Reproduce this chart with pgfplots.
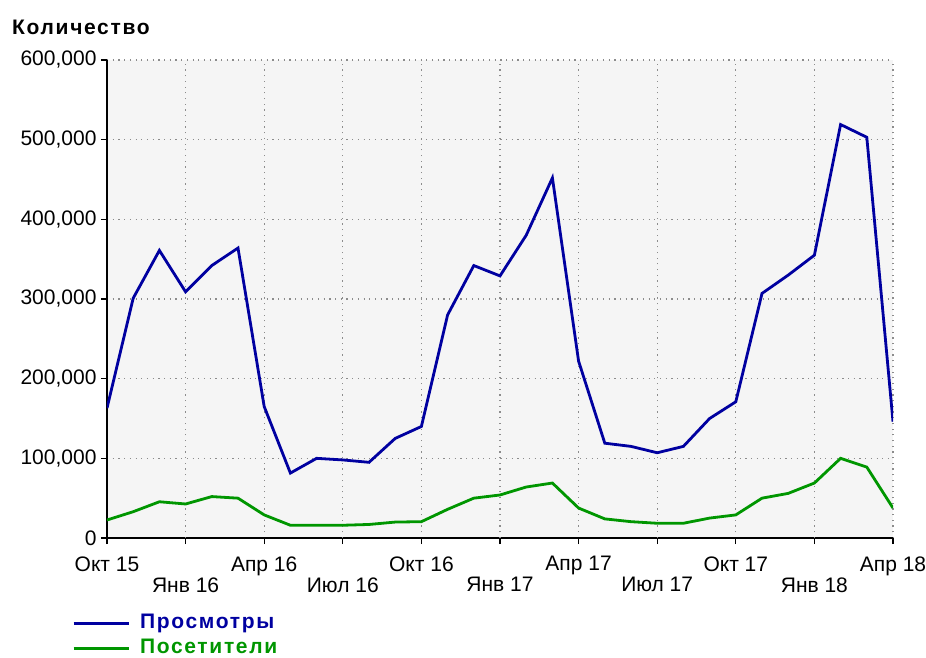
\documentclass[border=0pt]{standalone}
\usepackage{pgfplots}
\usepackage{pgfplotstable}
\pgfplotsset{compat=1.18}
\usepackage{fontspec}
\setmainfont{Liberation Sans}
\newfontfamily\spacedbold{Liberation Sans Bold}[LetterSpace=8]
\definecolor{pblue}{RGB}{0,0,160}
\definecolor{pgreen}{RGB}{0,150,0}
\definecolor{bg}{RGB}{245,245,245}
\pgfplotstableread{
m views visitors
0 163000 22600
1 301000 33000
2 361000 45500
3 309000 42700
4 342000 52000
5 364000 50000
6 165000 29000
7 81500 16000
8 100000 16000
9 98000 16000
10 95000 17000
11 125000 20000
12 140000 20500
13 280000 36000
14 342000 50000
15 329000 54000
16 380000 64000
17 452000 69000
18 222000 37600
19 119000 24000
20 115000 20500
21 107000 18500
22 115000 18500
23 150000 25000
24 171000 29000
25 307000 50000
26 330000 56000
27 355000 69000
28 519000 100000
29 503000 89000
30 146000 37600
}\datatable
\begin{document}
\begin{tikzpicture}[x=1pt,y=1pt]
\useasboundingbox (-107,-119) rectangle (819,538);
\begin{axis}[
  at={(0,0)}, anchor=south west,
  scale only axis, width=786pt, height=478pt,
  xmin=0, xmax=30, ymin=0, ymax=600000,
  axis x line*=bottom, axis y line*=left,
  axis line style={line width=2.5pt,-},
  axis background/.style={fill=bg},
  xtick={0,6,12,18,24,30},
  xticklabels={Окт 15,Апр 16,Окт 16,Апр 17,Окт 17,Апр 18},
  extra x ticks={3,9,15,21,27},
  extra x tick labels={Янв 16,Июл 16,Янв 17,Июл 17,Янв 18},
  extra x tick style={grid=major, xticklabel style={yshift=-21pt}},
  ytick={0,100000,200000,300000,400000,500000,600000},
  yticklabels={0,{100,000},{200,000},{300,000},{400,000},{500,000},{600,000}},
  scaled y ticks=false,
  tick align=outside,
  major tick length=6pt,
  tick style={black, line width=1.2pt},
  grid=major,
  major grid style={gray!90, line width=1.1pt, dash pattern=on 1.2pt off 4.5pt},
  tick label style={font=\fontsize{21}{24}\selectfont},
  xticklabel style={yshift=-9pt},
  yticklabel style={xshift=-1pt},
  legend style={draw=none, fill=none, at={(-0.0445,-0.154)}, anchor=north west,
    inner sep=0pt, row sep=2pt, column sep=9pt,
    font=\spacedbold\fontsize{21}{24}\selectfont,
    nodes={inner sep=1pt, text height=16pt, text depth=5pt}},
  legend cell align=left,
  legend image code/.code={\draw[#1] (0pt,0pt) -- (55pt,0pt);},
]
\addplot[pblue, line width=2.8pt] table[x=m, y=views] {\datatable};
\addlegendentry{\textcolor{pblue}{Просмотры}}
\addplot[pgreen, line width=2.8pt] table[x=m, y=visitors] {\datatable};
\addlegendentry{\textcolor{pgreen}{Посетители}}
\end{axis}
\node[anchor=base west, font=\spacedbold\fontsize{21}{24}\selectfont, inner sep=0pt] at (-95,503) {Количество};
\end{tikzpicture}
\end{document}
